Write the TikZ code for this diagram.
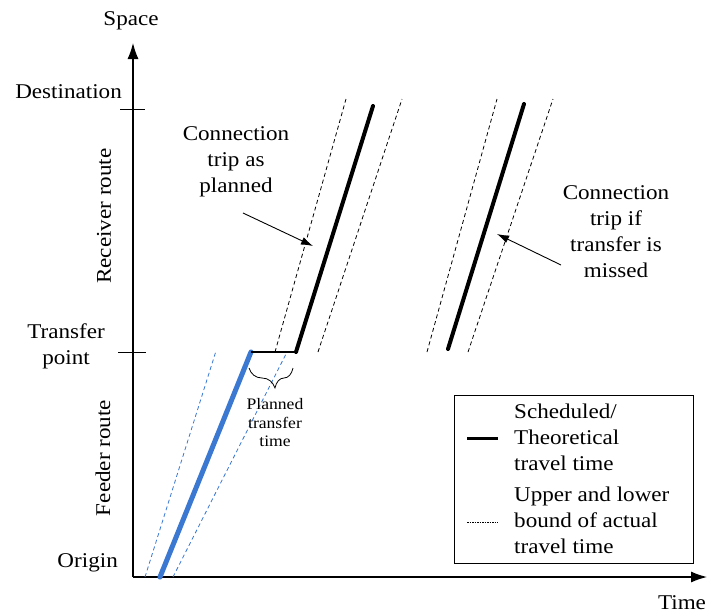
\documentclass[tikz,border=0pt]{standalone}
\usepackage{fontspec}
\setmainfont{Liberation Serif}[FakeStretch=1.1]
\usetikzlibrary{arrows.meta,decorations.pathreplacing}
\definecolor{feederblue}{RGB}{58,120,210}
\begin{document}
\begin{tikzpicture}[x=1pt,y=-1pt,
  axis/.style={line width=1.2pt,-{Latex[length=16pt,width=11pt]}},
  tickmark/.style={line width=1pt},
  lbl/.style={font=\fontsize{21}{26}\selectfont,align=center,inner sep=0pt},
  smalllbl/.style={font=\fontsize{16}{18.5}\selectfont,align=center,inner sep=0pt},
  trip/.style={line width=4pt,line cap=round},
  bound/.style={line width=0.8pt,dash pattern=on 4pt off 3pt},
  feeder/.style={line width=5pt,line cap=round,draw=feederblue},
  feederbound/.style={line width=0.8pt,dash pattern=on 4pt off 3pt,draw=feederblue},
  callout/.style={line width=0.9pt,-{Latex[length=12pt,width=8pt]}}]
\useasboundingbox (0,0) rectangle (710,614);

% axes
\coordinate (O) at (133,577);
\coordinate (ytop) at (133,43);
\coordinate (xend) at (707,577);
\draw[axis] (O) -- (ytop);
\draw[axis] (O) -- (xend);
\node[lbl] (space) at (131,21) {Space};
\node[lbl] (time) at (682,603) {Time};

% ticks on the space axis
\coordinate (dL) at (120,109); \coordinate (dR) at (145,109);
\coordinate (tL) at (118,352); \coordinate (tR) at (146,352);
\draw[tickmark] (dL) -- (dR);
\draw[tickmark] (tL) -- (tR);

% axis labels
\node[lbl,anchor=east] (dest) at (122,92) {Destination};
\node[lbl] (transfer) at (66,346) {Transfer\\point};
\node[lbl,anchor=east] (origin) at (118,563) {Origin};
\node[lbl,rotate=90] (receiver) at (104,216) {Receiver route};
\node[lbl,rotate=90] (feederlbl) at (103,458) {Feeder route};

% feeder trip with its bounds
\coordinate (f0) at (160,577); \coordinate (f1) at (251,352);
\coordinate (fl0) at (145,577); \coordinate (fl1) at (216,351);
\coordinate (fr0) at (173,577); \coordinate (fr1) at (287,352);
\draw[feederbound] (fl0) -- (fl1);
\draw[feederbound] (fr0) -- (fr1);
\draw[feeder] (f0) -- (f1);

% planned transfer
\coordinate (c0) at (296,352);
\draw[line width=1.6pt] (f1) -- (c0);
\draw[decorate,decoration={brace,mirror,amplitude=20pt,aspect=0.59},line width=0.8pt]
  (249,368) -- (293,368);
\node[smalllbl] (plannedtt) at (275,423) {Planned\\transfer\\time};

% connection trip as planned
\coordinate (c1) at (373,106);
\coordinate (cl0) at (275,352); \coordinate (cl1) at (346,99);
\coordinate (cr0) at (318,352); \coordinate (cr1) at (402,99);
\draw[bound] (cl0) -- (cl1);
\draw[bound] (cr0) -- (cr1);
\draw[trip] (c0) -- (c1);

% next connection trip
\coordinate (m0) at (448,349); \coordinate (m1) at (524,104);
\coordinate (ml0) at (427,352); \coordinate (ml1) at (497,99);
\coordinate (mr0) at (468,352); \coordinate (mr1) at (553,99);
\draw[bound] (ml0) -- (ml1);
\draw[bound] (mr0) -- (mr1);
\draw[trip] (m0) -- (m1);

% callouts
\node[lbl] (planned) at (236,162) {Connection\\trip as\\planned};
\node[lbl] (missed) at (616,232) {Connection\\trip if\\transfer is\\missed};
\coordinate (pa) at (243,213); \coordinate (pb) at (313,246);
\coordinate (ma) at (561,265); \coordinate (mb) at (497,234);
\draw[callout] (pa) -- (pb);
\draw[callout] (ma) -- (mb);

% legend
\node[draw,line width=1pt,minimum width=239pt,minimum height=168pt,inner sep=0pt,anchor=north west] (legend) at (454,395) {};
\coordinate (ls0) at (467,438); \coordinate (ls1) at (498,438);
\coordinate (lb0) at (467,522); \coordinate (lb1) at (498,522);
\draw[line width=3pt] (ls0) -- (ls1);
\draw[line width=0.6pt,dash pattern=on 1.5pt off 1pt] (lb0) -- (lb1);
\node[lbl,align=left,anchor=west] (legsched) at (514,437) {Scheduled/\\Theoretical\\travel time};
\node[lbl,align=left,anchor=west] (legbound) at (514,520) {Upper and lower\\bound of actual\\travel time};
\end{tikzpicture}
\end{document}
